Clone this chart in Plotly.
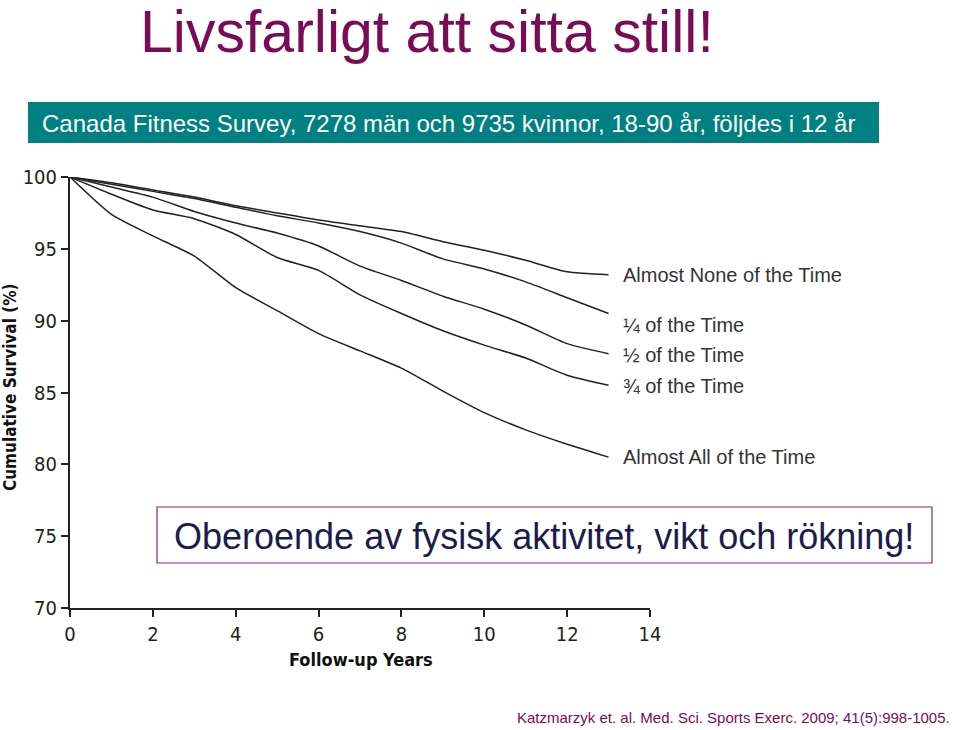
import plotly.graph_objects as go

# ---- data ----
years = [0, 1, 2, 3, 4, 5, 6, 7, 8, 9, 10, 11, 12, 13]
almost_none = [100, 99.6, 99.1, 98.6, 98.0, 97.5, 97.0, 96.6, 96.2, 95.5, 94.9, 94.2, 93.4, 93.2]
quarter = [100, 99.5, 99.0, 98.5, 97.9, 97.3, 96.8, 96.2, 95.4, 94.3, 93.6, 92.7, 91.6, 90.5]
half = [100, 99.3, 98.6, 97.6, 96.8, 96.1, 95.2, 93.8, 92.8, 91.7, 90.8, 89.7, 88.4, 87.7]
three_quarter = [100, 98.8, 97.7, 97.1, 96.0, 94.4, 93.5, 91.8, 90.5, 89.3, 88.3, 87.4, 86.2, 85.5]
almost_all = [100, 97.4, 95.9, 94.5, 92.3, 90.7, 89.1, 87.9, 86.7, 85.1, 83.6, 82.4, 81.4, 80.5]

series_names = ["Almost None of the Time", "¼ of the Time", "½ of the Time",
                "¾ of the Time", "Almost All of the Time"]
series_values = [almost_none, quarter, half, three_quarter, almost_all]
label_y = [93.2, 89.7, 87.6, 85.45, 80.5]

y_ticks = [70, 75, 80, 85, 90, 95, 100]
x_ticks = [0, 2, 4, 6, 8, 10, 12, 14]

title_text = "Livsfarligt att sitta still!"
banner_text = "Canada Fitness Survey, 7278 män och 9735 kvinnor, 18-90 år, följdes i 12 år"
box_text = "Oberoende av fysisk aktivitet, vikt och rökning!"
cite_text = "Katzmarzyk et. al. Med. Sci. Sports Exerc. 2009; 41(5):998-1005."
y_title = "Cumulative Survival (%)"
x_title = "Follow-up Years"

# ---- layout geometry ----
W, H = 960, 730
L, R, T, B = 70, 650, 177, 608
PURPLE = "#7a0c55"
TEAL = "#008080"
LINE = "#222222"
AX_FONT = "Liberation Sans Narrow, DejaVu Sans Condensed, Arial Narrow, sans-serif"
BOLD_FONT = "DejaVu Sans Condensed, DejaVu Sans, Verdana, sans-serif"


def px(xp):
    return (xp - L) / (R - L)


def py(yp):
    return (B - yp) / (B - T)


fig = go.Figure()
for name, vals in zip(series_names, series_values):
    fig.add_trace(go.Scatter(x=years, y=vals, mode="lines", name=name,
                             line=dict(color=LINE, width=1.5, shape="spline", smoothing=0.6),
                             showlegend=False, hoverinfo="x+y+name"))

annotations = []
for name, yv in zip(series_names, label_y):
    annotations.append(dict(x=13.3, y=yv, xref="x", yref="y", text=name, showarrow=False,
                            xanchor="left", yanchor="middle",
                            font=dict(family="Liberation Sans, Arial, sans-serif", size=20, color="#333333")))

annotations += [
    dict(x=px(138), y=py(-3), xref="paper", yref="paper", text=title_text, showarrow=False,
         xanchor="left", yanchor="top",
         font=dict(family="Liberation Sans, Arial, sans-serif", size=59, color=PURPLE)),
    dict(x=px(40), y=py(123), xref="paper", yref="paper", text=banner_text, showarrow=False,
         xanchor="left", yanchor="middle",
         font=dict(family="Liberation Sans, Arial, sans-serif", size=24, color="white")),
    dict(x=px(544), y=py(536), xref="paper", yref="paper", text=box_text, showarrow=False,
         xanchor="center", yanchor="middle",
         font=dict(family="Liberation Sans, Arial, sans-serif", size=36, color="#1c1c4c")),
    dict(x=px(952), y=py(717), xref="paper", yref="paper", text=cite_text, showarrow=False,
         xanchor="right", yanchor="middle",
         font=dict(family="Liberation Sans, Arial, sans-serif", size=15, color=PURPLE)),
    dict(x=px(10), y=py(387), xref="paper", yref="paper", text="<b>" + y_title + "</b>", showarrow=False,
         xanchor="center", yanchor="middle", textangle=-90,
         font=dict(family=BOLD_FONT, size=17, color="#111111")),
    dict(x=px(361), y=py(659), xref="paper", yref="paper", text="<b>" + x_title + "</b>", showarrow=False,
         xanchor="center", yanchor="middle",
         font=dict(family=BOLD_FONT, size=18, color="#111111")),
]

shapes = [
    dict(type="rect", xref="paper", yref="paper", x0=px(28), x1=px(879), y0=py(143), y1=py(102),
         fillcolor=TEAL, line=dict(width=0), layer="below"),
    dict(type="rect", xref="paper", yref="paper", x0=px(157), x1=px(932), y0=py(563), y1=py(507),
         fillcolor="white", line=dict(color="#8b2a62", width=1.2), layer="above"),
]

fig.update_layout(
    width=W, height=H,
    margin=dict(l=L, r=W - R, t=T, b=H - B, pad=0),
    paper_bgcolor="white", plot_bgcolor="white",
    showlegend=False,
    annotations=annotations,
    shapes=shapes,
    xaxis=dict(range=[0, 14], tickvals=x_ticks, ticks="outside", ticklen=7, tickwidth=2,
               tickcolor=LINE, showline=True, linecolor=LINE, linewidth=2, showgrid=False,
               zeroline=False, tickfont=dict(family=AX_FONT, size=20, color="#222222")),
    yaxis=dict(range=[70, 100], tickvals=y_ticks, ticks="outside", ticklen=7, tickwidth=2,
               tickcolor=LINE, showline=True, linecolor=LINE, linewidth=2, showgrid=False,
               zeroline=False, tickfont=dict(family=AX_FONT, size=20, color="#222222")),
)

fig.write_html("out.html", config={"displayModeBar": False},
               post_script="document.body.style.margin='0';")
